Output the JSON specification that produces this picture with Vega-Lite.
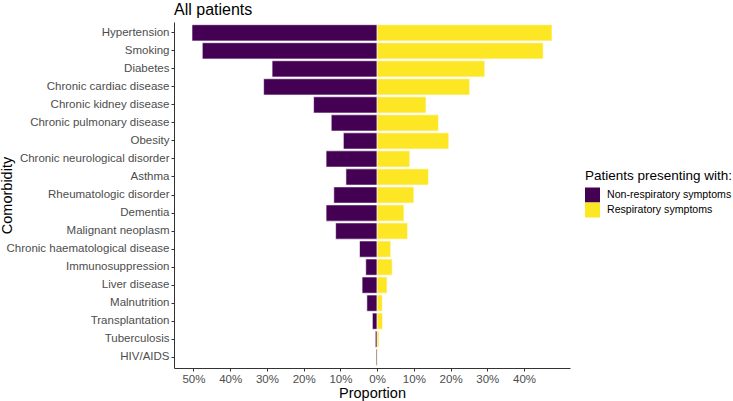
{
  "$schema": "https://vega.github.io/schema/vega-lite/v6.json",
  "autosize": "none",
  "width": 396,
  "height": 346,
  "padding": {"left": 174, "top": 22, "right": 163, "bottom": 33},
  "background": "white",
  "title": {"text": "All patients", "anchor": "start", "frame": "group", "font": "Liberation Sans", "fontSize": 16, "fontWeight": "normal", "color": "black", "offset": 4},
  "data": {"values": [
    {"comorbidity": "Hypertension", "group": "Non-respiratory symptoms", "value": -50.4},
    {"comorbidity": "Hypertension", "group": "Respiratory symptoms", "value": 47.6},
    {"comorbidity": "Smoking", "group": "Non-respiratory symptoms", "value": -47.6},
    {"comorbidity": "Smoking", "group": "Respiratory symptoms", "value": 45.2},
    {"comorbidity": "Diabetes", "group": "Non-respiratory symptoms", "value": -28.6},
    {"comorbidity": "Diabetes", "group": "Respiratory symptoms", "value": 29.3},
    {"comorbidity": "Chronic cardiac disease", "group": "Non-respiratory symptoms", "value": -30.9},
    {"comorbidity": "Chronic cardiac disease", "group": "Respiratory symptoms", "value": 25.2},
    {"comorbidity": "Chronic kidney disease", "group": "Non-respiratory symptoms", "value": -17.3},
    {"comorbidity": "Chronic kidney disease", "group": "Respiratory symptoms", "value": 13.3},
    {"comorbidity": "Chronic pulmonary disease", "group": "Non-respiratory symptoms", "value": -12.5},
    {"comorbidity": "Chronic pulmonary disease", "group": "Respiratory symptoms", "value": 16.7},
    {"comorbidity": "Obesity", "group": "Non-respiratory symptoms", "value": -9.2},
    {"comorbidity": "Obesity", "group": "Respiratory symptoms", "value": 19.5},
    {"comorbidity": "Chronic neurological disorder", "group": "Non-respiratory symptoms", "value": -13.9},
    {"comorbidity": "Chronic neurological disorder", "group": "Respiratory symptoms", "value": 8.9},
    {"comorbidity": "Asthma", "group": "Non-respiratory symptoms", "value": -8.5},
    {"comorbidity": "Asthma", "group": "Respiratory symptoms", "value": 14.0},
    {"comorbidity": "Rheumatologic disorder", "group": "Non-respiratory symptoms", "value": -11.8},
    {"comorbidity": "Rheumatologic disorder", "group": "Respiratory symptoms", "value": 10.0},
    {"comorbidity": "Dementia", "group": "Non-respiratory symptoms", "value": -13.9},
    {"comorbidity": "Dementia", "group": "Respiratory symptoms", "value": 7.3},
    {"comorbidity": "Malignant neoplasm", "group": "Non-respiratory symptoms", "value": -11.3},
    {"comorbidity": "Malignant neoplasm", "group": "Respiratory symptoms", "value": 8.3},
    {"comorbidity": "Chronic haematological disease", "group": "Non-respiratory symptoms", "value": -4.8},
    {"comorbidity": "Chronic haematological disease", "group": "Respiratory symptoms", "value": 3.7},
    {"comorbidity": "Immunosuppression", "group": "Non-respiratory symptoms", "value": -3.1},
    {"comorbidity": "Immunosuppression", "group": "Respiratory symptoms", "value": 4.1},
    {"comorbidity": "Liver disease", "group": "Non-respiratory symptoms", "value": -4.1},
    {"comorbidity": "Liver disease", "group": "Respiratory symptoms", "value": 2.7},
    {"comorbidity": "Malnutrition", "group": "Non-respiratory symptoms", "value": -2.8},
    {"comorbidity": "Malnutrition", "group": "Respiratory symptoms", "value": 1.4},
    {"comorbidity": "Transplantation", "group": "Non-respiratory symptoms", "value": -1.3},
    {"comorbidity": "Transplantation", "group": "Respiratory symptoms", "value": 1.5},
    {"comorbidity": "Tuberculosis", "group": "Non-respiratory symptoms", "value": -0.5},
    {"comorbidity": "Tuberculosis", "group": "Respiratory symptoms", "value": 0.5},
    {"comorbidity": "HIV/AIDS", "group": "Non-respiratory symptoms", "value": -0.3},
    {"comorbidity": "HIV/AIDS", "group": "Respiratory symptoms", "value": 0.2}
  ]},
  "mark": {"type": "bar", "stroke": "white", "strokeWidth": 0.6},
  "encoding": {
    "y": {
      "field": "comorbidity", "type": "nominal",
      "sort": ["Hypertension", "Smoking", "Diabetes", "Chronic cardiac disease", "Chronic kidney disease", "Chronic pulmonary disease", "Obesity", "Chronic neurological disorder", "Asthma", "Rheumatologic disorder", "Dementia", "Malignant neoplasm", "Chronic haematological disease", "Immunosuppression", "Liver disease", "Malnutrition", "Transplantation", "Tuberculosis", "HIV/AIDS"],
      "scale": {"paddingInner": 0.1, "paddingOuter": 0.15},
      "axis": {"title": "Comorbidity", "titleFont": "Liberation Sans", "titleFontSize": 14.5, "titleFontWeight": "normal", "titleColor": "black",
        "titleX": -163, "titleY": 173, "titleAngle": -90, "titleAlign": "center", "titleBaseline": "alphabetic",
        "labelFont": "Liberation Sans", "labelFontSize": 11.5, "labelColor": "#4D4D4D", "labelPadding": 2,
        "tickColor": "#333333", "tickSize": 3, "domainColor": "#333333", "domainWidth": 1, "grid": false}
    },
    "x": {
      "field": "value", "type": "quantitative",
      "scale": {"domain": [-55.3, 52.5], "nice": false, "zero": false},
      "axis": {"title": "Proportion", "titleFont": "Liberation Sans", "titleFontSize": 14.5, "titleFontWeight": "normal", "titleColor": "black", "titlePadding": 2,
        "values": [-50, -40, -30, -20, -10, 0, 10, 20, 30, 40],
        "labelExpr": "abs(datum.value) + '%'",
        "labelFont": "Liberation Sans", "labelFontSize": 11.5, "labelColor": "#4D4D4D", "labelPadding": 2,
        "tickColor": "#333333", "tickSize": 3, "domainColor": "#333333", "domainWidth": 1, "grid": false}
    },
    "color": {
      "field": "group", "type": "nominal",
      "scale": {"domain": ["Non-respiratory symptoms", "Respiratory symptoms"], "range": ["#440154", "#FDE725"]},
      "legend": {"title": "Patients presenting with:", "orient": "none", "legendX": 411, "legendY": 147,
        "titleFont": "Liberation Sans", "titleFontSize": 13.5, "titleFontWeight": "normal", "titleColor": "black", "titlePadding": 5,
        "labelFont": "Liberation Sans", "labelFontSize": 10.6, "labelColor": "black",
        "symbolType": "square", "symbolSize": 225, "symbolStrokeWidth": 0, "symbolOpacity": 1, "rowPadding": 0, "labelOffset": 7}
    }
  },
  "config": {"view": {"stroke": null}}
}
